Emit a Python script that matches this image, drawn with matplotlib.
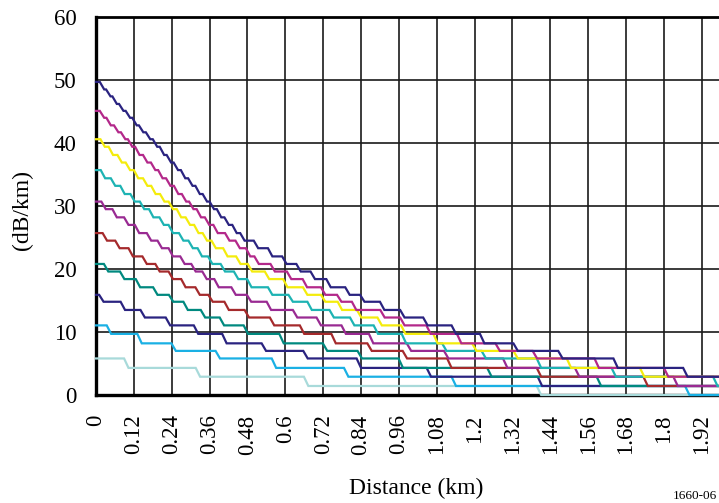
import matplotlib
matplotlib.use("Agg")
import matplotlib.pyplot as plt

plt.rcParams["font.family"] = ["Liberation Serif", "DejaVu Serif"]

# quantised attenuation levels (dB/km) shared by all curves, lowest first
levels = [0.0, 1.43, 2.9, 4.3, 5.8, 7.0, 8.2, 9.7, 11.05, 12.3,
          13.5, 14.8, 15.9, 17.1, 18.4, 19.6, 20.8, 22.0, 23.3, 24.5,
          25.7, 27.0, 28.2, 29.5, 30.7, 31.9, 33.2, 34.4, 35.7, 36.9,
          38.1, 39.4, 40.6, 41.7, 42.8, 44.0, 45.1, 46.2, 47.4, 48.5, 49.7]

# index into levels where each curve starts
start_index = [4, 8, 12, 16, 20, 24, 28, 32, 36, 40]

# distance (km) where each curve steps down to the next level
drops_5 = [0.089, 0.316, 0.659, 1.397]
drops_10 = [0.034, 0.131, 0.239, 0.379, 0.557, 0.786, 1.127, 1.867]
drops_15 = [0.010, 0.078, 0.141, 0.221, 0.310, 0.400, 0.525, 0.657, 0.826,
            1.048, 1.400]
drops_20 = [0.025, 0.076, 0.126, 0.181, 0.231, 0.277, 0.332, 0.392, 0.468,
            0.581, 0.719, 0.829, 0.959, 1.240, 1.587]
drops_25 = [0.021, 0.061, 0.103, 0.147, 0.188, 0.230, 0.270, 0.315, 0.356,
            0.407, 0.471, 0.551, 0.646, 0.746, 0.860, 0.972, 1.113, 1.397,
            1.735]
drops_30 = [0.017, 0.052, 0.089, 0.123, 0.161, 0.195, 0.230, 0.267, 0.302,
            0.337, 0.375, 0.429, 0.478, 0.541, 0.624, 0.699, 0.778, 0.865,
            0.985, 1.103, 1.290, 1.518, 1.830]
drops_35 = [0.015, 0.047, 0.077, 0.109, 0.139, 0.168, 0.201, 0.230, 0.263,
            0.293, 0.322, 0.355, 0.395, 0.437, 0.479, 0.545, 0.610, 0.670,
            0.740, 0.805, 0.880, 0.969, 1.097, 1.222, 1.397, 1.634, 1.956]
drops_40 = [0.014, 0.040, 0.068, 0.094, 0.120, 0.149, 0.175, 0.203, 0.230,
            0.256, 0.284, 0.311, 0.338, 0.366, 0.403, 0.444, 0.481, 0.535,
            0.593, 0.656, 0.713, 0.766, 0.827, 0.892, 0.967, 1.069, 1.192,
            1.323, 1.492, 1.724]
drops_45 = [0.012, 0.033, 0.057, 0.079, 0.101, 0.124, 0.149, 0.174, 0.197,
            0.222, 0.247, 0.272, 0.295, 0.319, 0.345, 0.372, 0.409, 0.442,
            0.475, 0.502, 0.553, 0.605, 0.655, 0.713, 0.764, 0.811, 0.901,
            0.964, 1.047, 1.144, 1.266, 1.384, 1.580, 1.800]
drops_50 = [0.012, 0.032, 0.052, 0.073, 0.094, 0.115, 0.136, 0.158, 0.180,
            0.202, 0.224, 0.246, 0.269, 0.292, 0.315, 0.338, 0.360, 0.383,
            0.407, 0.432, 0.457, 0.500, 0.545, 0.590, 0.635, 0.680, 0.730,
            0.790, 0.837, 0.900, 0.964, 1.037, 1.127, 1.217, 1.323, 1.465,
            1.640, 1.861]

drops = [drops_5, drops_10, drops_15, drops_20, drops_25,
         drops_30, drops_35, drops_40, drops_45, drops_50]
colors = ["#a8dada", "#1ab0e4", "#2a2380", "#00897f", "#a52a2c",
          "#992a92", "#1db3b3", "#f4ec0c", "#b3288a", "#2a2380"]

x_ticks = [0, 0.12, 0.24, 0.36, 0.48, 0.6, 0.72, 0.84, 0.96, 1.08,
           1.2, 1.32, 1.44, 1.56, 1.68, 1.8, 1.92]
x_labels = ["0", "0.12", "0.24", "0.36", "0.48", "0.6", "0.72", "0.84",
            "0.96", "1.08", "1.2", "1.32", "1.44", "1.56", "1.68", "1.8",
            "1.92"]
y_ticks = [0, 10, 20, 30, 40, 50, 60]


def staircase(start, steps, ramp=0.014, x_end=2.05):
    xs, ys = [0.0], [levels[start]]
    i = start
    for d in steps:
        xs += [d, d + ramp]
        ys += [levels[i], levels[i - 1]]
        i -= 1
    xs.append(x_end)
    ys.append(levels[i])
    return xs, ys


fig = plt.figure(figsize=(7.19, 5.03), dpi=100)
ax = fig.add_axes([96 / 719, 108 / 503, 623 / 719, 378 / 503])

for s, d, c in zip(start_index, drops, colors):
    xs, ys = staircase(s, d)
    ax.plot(xs, ys, color=c, lw=1.6, zorder=4, clip_on=False,
            solid_joinstyle="miter")

ax.set_xlim(0, 623 / 315.5)
ax.set_ylim(0, 60)
ax.set_xticks(x_ticks)
ax.set_xticklabels(x_labels, rotation=90, fontsize=16.5)
ax.set_yticks(y_ticks)
ax.set_yticklabels([str(v) for v in y_ticks], fontsize=16.5)
ax.tick_params(length=0, pad=14)
ax.tick_params(axis="x", pad=14)
ax.grid(True, color="#1a1a1a", lw=1.2)
ax.set_axisbelow(True)

for side in ["left", "bottom"]:
    ax.spines[side].set_linewidth(2.4)
ax.spines["top"].set_linewidth(2.0)
ax.spines["right"].set_visible(False)

fig.text(22 / 719, 1 - 210 / 503, "(dB/km)", rotation=90, fontsize=17,
         ha="center", va="center")
fig.text(416 / 719, 1 - 488 / 503, "Distance (km)", fontsize=17,
         ha="center", va="center")
fig.text(717 / 719, 1 / 503, "1660-06", fontsize=9.5,
         ha="right", va="bottom")

fig.savefig("out.png", dpi=100)
